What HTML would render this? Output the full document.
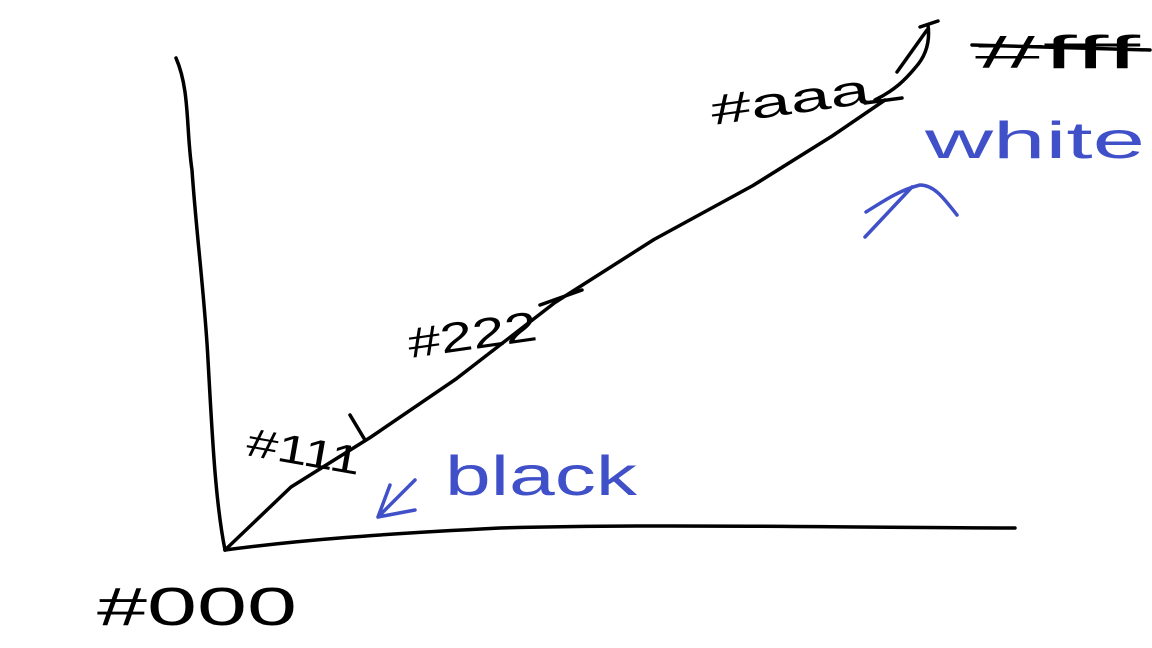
<!DOCTYPE html>
<html><head><meta charset="utf-8"><style>
html,body{margin:0;padding:0;background:#fff;width:1152px;height:648px;overflow:hidden}
svg{display:block}
text{font-family:"Liberation Sans",sans-serif}
</style></head><body>
<svg id="chart" width="1152" height="648" viewBox="0 0 1152 648">
  <g fill="none" stroke="#000" stroke-width="3.5" stroke-linecap="round" stroke-linejoin="round">
    <path d="M176,58 C190,90 186,130 192,170 C196,230 205,300 208,360 C212,430 215,500 225,550"/>
    <path d="M225,550 C300,540 380,534 500,528 C650,524 800,527 1015,528"/>
    <path id="ramp" d=""/>
    <path d="M897,72 L927,30 M920,27 L938,21 M928,25 C930,40 927,55 915,68 C905,80 895,90 875,100 M865,103 L902,98"/>
    <path d="M972,45 L1150,50"/>
    <path d="M350,415 L365,440"/>
    <path d="M540,305 L582,290"/>
  </g>
  <g fill="none" stroke="#4050c8" stroke-width="3.5" stroke-linecap="round" stroke-linejoin="round">
    <path d="M865,237 L912,187 M866,212 C885,200 900,190 920,185 C935,185 945,200 957,215"/>
    <path d="M378,517 L415,480 M378,517 L415,510 M378,517 L390,485"/>
  </g>
  <text x="97" y="625" font-size="54" fill="#000" textLength="200" lengthAdjust="spacingAndGlyphs">#000</text>
  <text x="245" y="455" font-size="40" fill="#000" textLength="115" lengthAdjust="spacingAndGlyphs" transform="rotate(10 245 455)">#111</text>
  <text x="410" y="358" font-size="42" fill="#000" textLength="130" lengthAdjust="spacingAndGlyphs" transform="rotate(-8 410 358)">#222</text>
  <text x="713" y="125" font-size="42" fill="#000" textLength="160" lengthAdjust="spacingAndGlyphs" transform="rotate(-8 713 125)">#aaa</text>
  <text x="975" y="68" font-size="46" fill="#000" textLength="165" lengthAdjust="spacingAndGlyphs">#fff</text>
  <text x="925" y="158" font-size="52" fill="#4050c8" textLength="220" lengthAdjust="spacingAndGlyphs">white</text>
  <text x="445" y="495" font-size="56" fill="#4050c8" textLength="192" lengthAdjust="spacingAndGlyphs">black</text>
</svg>
<script>
// curve samples (fraction along x-axis, fraction of height)
const curveX = [0, 0.1, 0.22, 0.35, 0.5, 0.65, 0.8, 0.92, 1.0];
const curveY = [0, 0.14, 0.25, 0.38, 0.55, 0.69, 0.81, 0.92, 1.0];
function xScale(v){ return 225 + v * (885 - 225); }
function yScale(v){ return 550 - v * (550 - 100); }
const ramp = document.getElementById('ramp');
let d = '';
for (let i = 0; i < curveX.length; i++) {
  d += (i ? ' L' : 'M') + xScale(curveX[i]).toFixed(1) + ',' + yScale(curveY[i]).toFixed(1);
}
ramp.setAttribute('d', d);
</script>
</body></html>
